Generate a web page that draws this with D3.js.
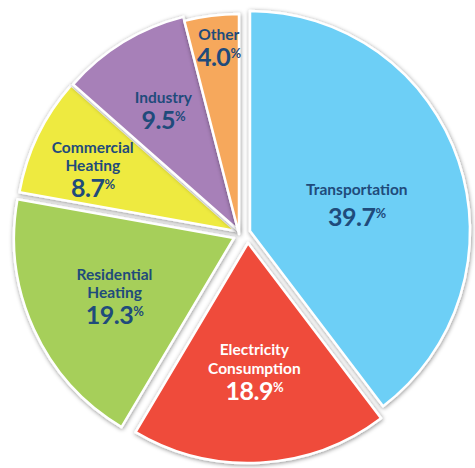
<!DOCTYPE html>
<html>
<head>
<meta charset="utf-8">
<script src="https://cdn.jsdelivr.net/npm/d3@7"></script>
<style>
  html, body { margin: 0; padding: 0; background: #fff; }
  #pieChart { width: 475px; height: 468px; }
  text { font-family: "Lato", "Open Sans", sans-serif; font-weight: 700; }
</style>
</head>
<body>
<div id="pieChart"></div>
<script>
// Data, clockwise from 12 o'clock
const categories = ["Transportation", "Electricity Consumption", "Residential Heating", "Commercial Heating", "Industry", "Other"];
const shares = [39.7, 18.9, 19.3, 8.7, 9.5, 4.0];
const nameLines = [["Transportation"], ["Electricity", "Consumption"], ["Residential", "Heating"], ["Commercial", "Heating"], ["Industry"], ["Other"]];

// styling per slice
const colors = ["#6dcff6", "#ef4b3b", "#a6cf5a", "#eeea40", "#a780b8", "#f6a85c"];
const textColors = ["#1f4b7b", "#ffffff", "#1f4b7b", "#1f4b7b", "#1f4b7b", "#1f4b7b"];
const explode = [[10, -3], [8, 9], [-6, 4], [-4, -3], [-2, -4], [-1, 0]];
const labelRadius = [110, 129, 133, 156, 141, 188];
const labelNudge = [4.8, 0.4, -1.5, -2.5, -0.5, 1];   // degrees
const valueGap = [31, 26, 26, 26, 26, 26];

function drawPieChart() {
    const container = d3.select("#pieChart");
    container.selectAll("*").remove();

    const width = 475, height = 468;
    const cx = 240, cy = 234, radius = 220;

    const svg = container.append("svg")
        .attr("width", width)
        .attr("height", height);

    const defs = svg.append("defs");
    defs.append("filter")
        .attr("id", "sliceShadow")
        .attr("x", "-10%").attr("y", "-10%")
        .attr("width", "120%").attr("height", "120%")
        .append("feDropShadow")
        .attr("dx", 0.5).attr("dy", 1)
        .attr("stdDeviation", 2)
        .attr("flood-color", "#000")
        .attr("flood-opacity", 0.45);

    const g = svg.append("g").attr("transform", `translate(${cx},${cy})`);

    const pie = d3.pie().sort(null).value(d => d.value);
    const arcs = pie(shares.map((v, i) => ({ value: v, i })));

    const arc = d3.arc().innerRadius(0).outerRadius(radius);

    const slices = g.selectAll(".slice")
        .data(arcs)
        .enter()
        .append("g")
        .attr("class", "slice")
        .attr("transform", d => `translate(${explode[d.index][0]},${explode[d.index][1]})`);

    slices.append("path")
        .attr("d", arc)
        .attr("fill", d => colors[d.index])
        .attr("stroke", "#fff")
        .attr("stroke-width", 2.5)
        .attr("stroke-linejoin", "round")
        .attr("filter", "url(#sliceShadow)");

    // Labels: name lines then the big value with a small raised %
    const nameSize = 15.5, valueSize = 25, lineStep = 18.5, capH = 11;

    slices.each(function(d) {
        const i = d.index;
        const mid = (d.startAngle + d.endAngle) / 2 + labelNudge[i] * Math.PI / 180;
        const r = labelRadius[i];
        const lx = Math.sin(mid) * r;
        const ly = -Math.cos(mid) * r;

        const lines = nameLines[i];
        const blockH = capH + (lines.length - 1) * lineStep + valueGap[i];
        const firstBase = ly - blockH / 2 + capH;

        const lab = d3.select(this).append("g")
            .attr("fill", textColors[i])
            .attr("text-anchor", "middle");

        lines.forEach((t, k) => {
            lab.append("text")
                .attr("x", lx)
                .attr("y", firstBase + k * lineStep)
                .attr("font-size", nameSize)
                .text(t);
        });

        const val = lab.append("text")
            .attr("x", lx)
            .attr("y", firstBase + (lines.length - 1) * lineStep + valueGap[i])
            .attr("font-size", valueSize)
            .attr("letter-spacing", -0.5);
        val.append("tspan").text(d3.format(".1f")(shares[i]));
        val.append("tspan")
            .attr("font-size", 13)
            .attr("dy", -8)
            .text("%");
    });
}

drawPieChart();
</script>
</body>
</html>
